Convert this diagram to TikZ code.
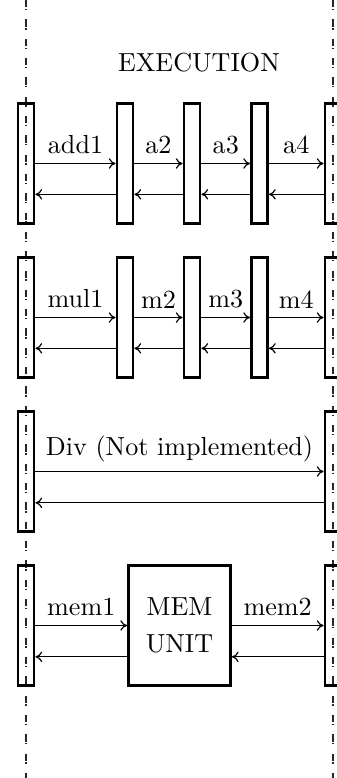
\documentclass[tikz,border=0pt]{standalone}
\usetikzlibrary{arrows.meta, positioning, calc}

\begin{document}
\begin{tikzpicture}[
    x=0.383pt, y=-0.383pt,
    thread/.style={draw, line width=1.1pt, inner sep=0pt,
                   minimum width=6.1pt, minimum height=46pt},
    unitbox/.style={draw, line width=1.1pt, inner sep=0pt, align=center,
                    minimum width=39pt, minimum height=46pt},
    lifeline/.style={dash pattern=on 2.8pt off 0.6pt on 0.5pt off 3.5pt,
                     line width=0.45pt, draw=black!85},
    call/.style={-{To[length=2.6pt,width=4pt]}, line width=0.45pt},
    ret/.style={call},
    lab/.style={above}
]
\useasboundingbox (0,0) rectangle (336,778);

% lifelines
\coordinate (ltop) at (26,0);
\coordinate (lbot) at (26,778);
\coordinate (rtop) at (333,0);
\coordinate (rbot) at (333,778);
\draw[lifeline] (ltop) -- (lbot);
\draw[lifeline] (rtop) -- (rbot);

\node (title) at (199,63) {EXECUTION};

% add pipeline
\node[thread] (ladd) at (26,163.5) {};
\node[thread] (a2) at (125,163.5) {};
\node[thread] (a3) at (192,163.5) {};
\node[thread] (a4) at (259.5,163.5) {};
\node[thread] (radd) at (333,163.5) {};

\draw[call] (ladd.east) -- node[lab]{add1} (a2.west);
\draw[call] (a2.east) -- node[lab]{a2} (a3.west);
\draw[call] (a3.east) -- node[lab]{a3} (a4.west);
\draw[call] (a4.east) -- node[lab]{a4} (radd.west);
\draw[ret] ([yshift=-11.8pt]a2.west) -- ([yshift=-11.8pt]ladd.east);
\draw[ret] ([yshift=-11.8pt]a3.west) -- ([yshift=-11.8pt]a2.east);
\draw[ret] ([yshift=-11.8pt]a4.west) -- ([yshift=-11.8pt]a3.east);
\draw[ret] ([yshift=-11.8pt]radd.west) -- ([yshift=-11.8pt]a4.east);

% mul pipeline
\node[thread] (lmul) at (26,317.5) {};
\node[thread] (m2) at (125,317.5) {};
\node[thread] (m3) at (192,317.5) {};
\node[thread] (m4) at (259.5,317.5) {};
\node[thread] (rmul) at (333,317.5) {};

\draw[call] (lmul.east) -- node[lab]{mul1} (m2.west);
\draw[call] (m2.east) -- node[lab]{m2} (m3.west);
\draw[call] (m3.east) -- node[lab]{m3} (m4.west);
\draw[call] (m4.east) -- node[lab]{m4} (rmul.west);
\draw[ret] ([yshift=-11.8pt]m2.west) -- ([yshift=-11.8pt]lmul.east);
\draw[ret] ([yshift=-11.8pt]m3.west) -- ([yshift=-11.8pt]m2.east);
\draw[ret] ([yshift=-11.8pt]m4.west) -- ([yshift=-11.8pt]m3.east);
\draw[ret] ([yshift=-11.8pt]rmul.west) -- ([yshift=-11.8pt]m4.east);

% div
\node[thread] (ldiv) at (26,471.5) {};
\node[thread] (rdiv) at (333,471.5) {};

\draw[call] (ldiv.east) -- node[lab]{Div (Not implemented)} (rdiv.west);
\draw[ret] ([yshift=-12pt]rdiv.west) -- ([yshift=-12pt]ldiv.east);

% memory
\node[thread] (lmem) at (26,625.5) {};
\node[unitbox] (mem) at (179.5,625.5) {MEM\\[2pt]UNIT};
\node[thread] (rmem) at (333,625.5) {};

\draw[call] (lmem.east) -- node[lab]{mem1} (mem.west);
\draw[call] (mem.east) -- node[lab]{mem2} (rmem.west);
\draw[ret] ([yshift=-12pt]mem.west) -- ([yshift=-12pt]lmem.east);
\draw[ret] ([yshift=-12pt]rmem.west) -- ([yshift=-12pt]mem.east);

\end{tikzpicture}
\end{document}
